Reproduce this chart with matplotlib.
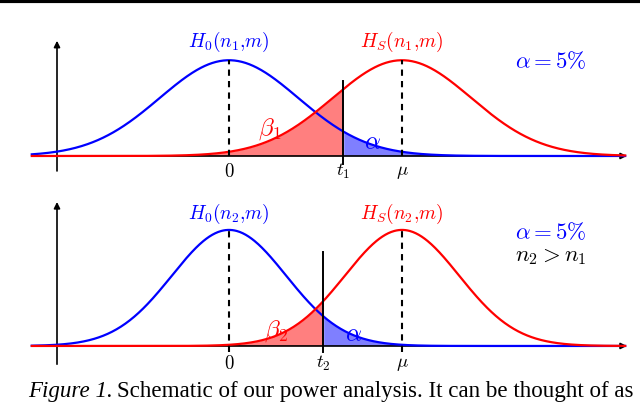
import numpy as np
import matplotlib.pyplot as plt
from matplotlib.lines import Line2D

plt.rcParams['mathtext.fontset'] = 'cm'

# Values (x in units of mu, mu = 1)
mu = 1.0
sigmas = [0.40, 0.33]          # spread of H0 / HS for n1 and n2
thresholds = [0.66, 0.545]     # t1, t2 (alpha = 5% one-sided)
sample_names = ['n_1', 'n_2']
x_start, x_end = -1.14, 2.29

BLUE = '#0000ff'
RED = '#ff0000'


def gauss(x, m, s):
    return np.exp(-0.5 * ((x - m) / s)**2) / (s * np.sqrt(2 * np.pi))


fig = plt.figure(figsize=(6.4, 4.06), dpi=100)

# px -> data: x = (px - 229) / 173, y = (baseline - py) / 96
panels = [
    dict(rect=[0, 206/406, 1, 200/406], ylim=(-0.448, 1.635), yaxis=(-0.156, 1.20),
         tline=(-0.083, 0.78), label_y=1.20, tick_y=-0.15, dash_low=0.0,
         beta_pos=(0.237, 0.29), alpha_pos=(0.832, 0.15),
         note_y=[0.99], notes=[r'$\alpha = 5\%$']),
    dict(rect=[0, 0, 1, 206/406], ylim=(-0.615, 1.531), yaxis=(-0.19, 1.50),
         tline=(-0.06, 0.98), label_y=1.39, tick_y=-0.17, dash_low=-0.06,
         beta_pos=(0.27, 0.17), alpha_pos=(0.72, 0.13),
         note_y=[1.19, 0.95], notes=[r'$\alpha = 5\%$', r'$n_2 > n_1$']),
]

for i, p in enumerate(panels):
    ax = fig.add_axes(p['rect'])
    ax.set_xlim(-229/173, 411/173)
    ax.set_ylim(*p['ylim'])
    ax.axis('off')

    s = sigmas[i]
    t = thresholds[i]
    n = sample_names[i]
    x = np.linspace(x_start, x_end, 800)
    h0 = gauss(x, 0, s)
    hs = gauss(x, mu, s)

    # axes arrows
    ax.annotate('', xy=(x_end + 0.01, 0), xytext=(x_start, 0),
                arrowprops=dict(arrowstyle='-|>', color='k', lw=1.2, mutation_scale=9,
                                shrinkA=0, shrinkB=0))
    ax.annotate('', xy=(-172/173, p['yaxis'][1]), xytext=(-172/173, p['yaxis'][0]),
                arrowprops=dict(arrowstyle='-|>', color='k', lw=1.2, mutation_scale=9,
                                shrinkA=0, shrinkB=0))

    # shaded error regions
    ax.fill_between(x, 0, hs, where=x <= t, color=RED, alpha=0.5, lw=0, zorder=2)
    ax.fill_between(x, 0, h0, where=x >= t, color=BLUE, alpha=0.5, lw=0, zorder=2)

    ax.plot(x, h0, color=BLUE, lw=1.6, zorder=3)
    ax.plot(x, hs, color=RED, lw=1.6, zorder=3)

    # dashed lines at the means
    peak = gauss(0, 0, s)
    ax.plot([0, 0], [p['dash_low'], peak], 'k--', lw=1.5, dashes=(3, 2.5), zorder=4)
    ax.plot([mu, mu], [p['dash_low'], peak], 'k--', lw=1.5, dashes=(3, 2.5), zorder=4)

    # threshold
    ax.plot([t, t], p['tline'], color='k', lw=1.4, zorder=5)

    # labels
    ax.text(0, p['label_y'], rf'$H_0({n}{{,}}m)$', color=BLUE, fontsize=14,
            ha='center', va='center')
    ax.text(mu, p['label_y'], rf'$H_S({n}{{,}}m)$', color=RED, fontsize=14,
            ha='center', va='center')
    for xv, lab in zip([0, t, mu], ['$0$', rf'$t_{i + 1}$', r'$\mu$']):
        ax.text(xv, p['tick_y'], lab, fontsize=13.5, ha='center', va='center')
    ax.text(*p['beta_pos'], rf'$\beta_{i + 1}$', color=RED, fontsize=18,
            ha='center', va='center')
    ax.text(*p['alpha_pos'], r'$\alpha$', color=BLUE, fontsize=18,
            ha='center', va='center')
    for j, (yv, note) in enumerate(zip(p['note_y'], p['notes'])):
        ax.text(1.86, yv, note, color=BLUE if j == 0 else 'k', fontsize=16.5,
                ha='center', va='center')

# rule at the top of the page
fig.add_artist(Line2D([0, 1], [1 - 2/406, 1 - 2/406], color='k', lw=3,
                      transform=fig.transFigure))

cap_size = 16.6
head = fig.text(28/640, 9/406, 'Figure 1.', fontstyle='italic', family='Liberation Serif',
                fontsize=cap_size, va='baseline', ha='left')
fig.canvas.draw()
bb = head.get_window_extent()
fig.text((bb.x1 + 4) / 640, 9/406,
         'Schematic of our power analysis. It can be thought of as',
         family='Liberation Serif', fontsize=cap_size, va='baseline', ha='left')

fig.savefig('out.png', dpi=100)
